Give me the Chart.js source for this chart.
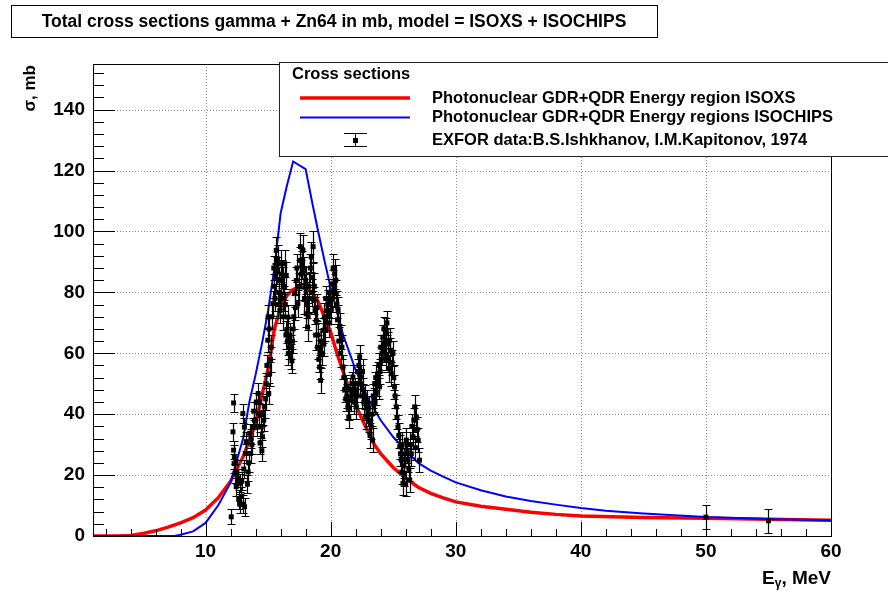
<!DOCTYPE html>
<html>
<head>
<meta charset="utf-8">
<script src="https://cdn.jsdelivr.net/npm/chart.js@4.4.1/dist/chart.umd.min.js"></script>
<style>
  html, body { margin: 0; padding: 0; background: #fff; }
  #wrap { width: 888px; height: 591px; }
</style>
</head>
<body>
<div id="wrap"><canvas id="xsChart" width="888" height="591"></canvas></div>
<script>
// model curve ISOXS (E in MeV, sigma in mb)
var isoxsE = [1, 2, 3, 4, 5, 6, 7, 8, 9, 10, 11, 12, 13, 14, 15, 15.5, 16, 16.5, 17, 17.5, 18, 18.5, 19, 19.5, 20, 20.5, 21, 21.5, 22, 22.5, 23, 23.5, 24, 25, 26, 27, 28, 29, 30, 32, 34, 36, 38, 40, 45, 50, 55, 60];
var isoxsS = [0, 0, 0, 0.2, 0.8, 1.7, 2.9, 4.3, 6.0, 8.5, 12.5, 18, 26, 37, 55, 68, 75, 79, 81, 81.5, 81.5, 80, 77, 72, 67, 60, 54, 48, 43, 38.5, 34, 30, 27, 22.5, 19, 16, 14, 12.5, 11.2, 9.8, 8.8, 7.8, 7.1, 6.6, 6.1, 5.8, 5.5, 5.2];

// model curve ISOCHIPS
var isochipsE = [1, 7.5, 8, 9, 10, 11, 12, 13, 13.5, 14, 14.5, 15, 15.5, 16, 16.5, 17, 18, 18.5, 19, 19.5, 20, 21, 22, 23, 24, 25, 26, 27, 28, 29, 30, 32, 34, 36, 38, 40, 42, 45, 50, 55, 60];
var isochipsS = [0, 0, 0.4, 1.5, 4.3, 10, 17.5, 32, 44, 53, 63, 74, 88, 106, 115, 123, 120.5, 110, 100, 90.5, 81.5, 66, 54.5, 45, 38, 32.5, 28, 24, 21.5, 19.5, 17.6, 15, 13, 11.5, 10.3, 9.2, 8.3, 7.4, 6.2, 5.6, 5.1];

// EXFOR data: energy, cross section, error
var exforE = [12.05, 12.19, 12.24, 12.24, 12.28, 12.35, 12.45, 12.6, 12.72, 12.72, 12.85, 12.98, 13.05, 13.1, 13.12, 13.2, 13.35, 13.45, 13.52, 13.6, 13.7, 13.78, 13.9, 14.05, 14.2, 14.25, 14.35, 14.45, 14.55, 14.65, 14.72, 14.85, 14.98, 15.0, 15.05, 15.12, 15.25, 15.38, 15.5, 15.65, 15.7, 15.85, 15.95, 16.05, 16.15, 16.25, 16.32, 16.45, 16.5, 16.58, 16.7, 16.85, 16.9, 17.0, 17.12, 17.25, 17.38, 17.52, 17.65, 17.78, 17.85, 17.95, 18.05, 18.15, 18.3, 18.45, 18.55, 18.65, 18.75, 18.85, 18.95, 19.05, 19.12, 19.2, 19.3, 19.38, 19.5, 19.65, 19.78, 19.9, 20.05, 20.15, 20.32, 20.45, 20.6, 20.72, 20.85, 20.98, 21.12, 21.25, 21.38, 21.45, 21.6, 21.78, 21.9, 22.05, 22.2, 22.32, 22.45, 22.6, 22.72, 22.85, 22.98, 23.1, 23.25, 23.35, 23.45, 23.52, 23.65, 23.78, 23.9, 24.05, 24.18, 24.3, 24.45, 24.55, 24.72, 24.85, 24.98, 25.1, 25.25, 25.38, 25.52, 25.65, 25.78, 25.9, 26.05, 26.18, 26.32, 26.45, 26.58, 26.72, 26.85, 27.0, 27.1,
  12.3, 12.5, 12.65, 12.9, 13.0, 13.25, 13.4, 13.65, 13.85, 14.1, 14.3, 14.5, 14.6, 14.8, 14.9,
  15.08, 15.2, 15.3, 15.45, 15.55, 15.6, 15.75, 15.8, 15.9, 16.0, 16.1, 16.2, 16.28, 16.38, 16.42, 16.55, 16.62, 16.75, 16.8, 16.95,
  17.05, 17.18, 17.3, 17.45, 17.58, 17.7, 17.9, 18.0, 18.1, 18.2, 18.25, 18.38, 18.5, 18.6, 18.7, 18.8, 18.9, 19.0, 19.15, 19.25,
  19.45, 19.55, 19.6, 19.7, 19.85, 19.95, 20.1, 20.2, 20.25, 20.4, 20.5, 20.55, 20.65, 20.8, 20.9,
  21.05, 21.2, 21.3, 21.5, 21.55, 21.7, 21.85, 21.95, 22.1, 22.15, 22.25, 22.38, 22.5, 22.55, 22.65, 22.8, 22.9, 23.05, 23.15, 23.3, 23.4, 23.55, 23.6, 23.7, 23.85, 23.95,
  24.0, 24.1, 24.25, 24.35, 24.4, 24.5, 24.6, 24.65, 24.78, 24.9, 25.05, 25.15, 25.3,
  25.45, 25.58, 25.7, 25.72, 25.85, 25.95, 26.0, 26.1, 26.25, 26.38, 26.5, 26.65, 26.78, 26.92,
  50, 55];
var exforS = [6.3, 34.2, 43.7, 28.2, 23.8, 20.5, 16.2, 19, 10.7, 17.3, 13, 40.2, 22, 35.8, 9.6, 27.1, 17, 24, 33.7, 27.1, 30, 35.8, 38, 44, 46.8, 40.2, 30.5, 35.8, 32.6, 38, 42.4, 50, 64.3, 71.9, 46.8, 53.3, 62, 76.3, 82, 93.8, 87.2, 80, 74, 89.4, 83.9, 78, 89.4, 85.5, 67.5, 71.9, 62, 62, 57.5, 68, 79.6, 83.9, 76.3, 90.5, 86, 93.8, 87.2, 81.7, 73, 68.6, 78, 91.6, 85, 77.4, 74, 70.8, 62, 58, 55.5, 51.1, 60, 67.5, 71.9, 74, 76.3, 70, 74.1, 82.8, 86.1, 79.6, 74, 68.6, 65.3, 55.5, 47.9, 49, 42.4, 39.1, 45, 52.2, 46.8, 42.4, 50, 58.8, 52.2, 48, 45.7, 42, 40.2, 38, 35.8, 31.5, 44.6, 50, 47, 53.3, 49, 58, 65.3, 61, 67.5, 57.7, 64.3, 53.3, 59.9, 49, 42.4, 35.8, 29.3, 24.9, 17.3, 20.5, 31.5, 24.9, 18.4, 27, 32.6, 42.4, 39.1, 31.5, 24.9,
  26, 21, 12, 18, 10.5, 31, 21, 32, 41, 36, 44, 28, 40, 45, 56,
  68, 58, 72, 88, 78, 85, 91, 76, 84, 79, 86, 72, 82, 76, 66, 64, 60, 66, 59, 64,
  72, 75, 88, 82, 95, 89, 78, 84, 76, 72, 82, 88, 80, 95, 82, 66, 75, 66, 60, 64,
  63, 68, 78, 72, 80, 76, 78, 88, 80, 84, 76, 71, 64, 60, 62,
  52, 45, 46, 42, 48, 50, 44, 48, 46, 54, 56, 50, 46, 54, 44, 39, 44, 42, 33, 40, 46, 44, 52, 50, 56, 54,
  62, 60, 68, 64, 59, 70, 63, 55, 61, 57, 52, 46, 39,
  33, 27, 21, 30, 23, 27, 17, 28, 22, 30, 36, 38, 29, 35,
  6.2, 5.0];
var exforErr = [2.5, 3, 3, 3, 3, 3, 3, 3, 3, 3, 3, 3, 3, 3, 3, 3, 3, 3, 3, 3, 3, 3, 3, 3, 3.5, 3.5, 3.5, 3.5, 3.5, 3.5, 3.5, 3.5, 4, 4, 3.5, 4, 4, 4, 4, 4.5, 4.5, 4.5, 4, 4.5, 4.5, 4, 4.5, 4.5, 4, 4, 4, 4, 4, 4, 4.5, 4.5, 4.5, 4.5, 4.5, 5, 4.5, 4.5, 4.5, 4.5, 4.5, 5, 4.5, 4.5, 4.5, 4.5, 4, 4, 4, 4, 4, 4, 4.5, 4.5, 4.5, 4.5, 4.5, 4.5, 5, 4.5, 4.5, 4.5, 4, 4, 4, 4, 4, 3.5, 4, 4, 4, 4, 4, 4, 4, 4, 4, 4, 4, 4, 4, 4, 4, 4, 4, 4, 4, 4, 4, 4, 4, 4, 4, 4, 4, 4, 4, 4, 4, 4, 4, 4, 4, 4, 4, 4, 4, 4, 4, 4, 4, 4, 4,
  3, 3, 3, 3, 3, 3, 3, 3, 3, 3.5, 3.5, 3.5, 3.5, 3.5, 4,
  4, 4, 4, 4.5, 4.5, 4.5, 4.5, 4.5, 4.5, 4.5, 4.5, 4, 4.5, 4.5, 4, 4, 4, 4, 4, 4,
  4.5, 4.5, 4.5, 4.5, 5, 4.5, 4.5, 4.5, 4.5, 4.5, 4.5, 5, 4.5, 5, 4.5, 4, 4.5, 4, 4, 4,
  4, 4.5, 4.5, 4.5, 4.5, 4.5, 4.5, 5, 4.5, 5, 4.5, 4.5, 4, 4, 4,
  4, 4, 4, 4, 4, 4, 4, 4, 4, 4, 4, 4, 4, 4, 4, 4, 4, 4, 4, 4, 4, 4, 4, 4, 4, 4,
  4, 4, 4.5, 4, 4, 4.5, 4, 4, 4, 4, 4, 4, 4,
  4, 4, 4, 4, 4, 4, 4, 4, 4, 4, 4, 4, 4, 4,
  1.5, 1];

var xMajor = [10, 20, 30, 40, 50, 60];
var yMajor = [0, 20, 40, 60, 80, 100, 120, 140];

var titleText = 'Total cross sections gamma + Zn64 in mb, model = ISOXS + ISOCHIPS';
var legendHeader = 'Cross sections';

function pts(xs, ys) {
  var out = [];
  for (var i in xs) out.push({ x: xs[i], y: ys[i] });
  return out;
}

var FONT = '"Liberation Sans", Arial, Helvetica, sans-serif';

// ROOT-like frame: dotted grid, tick marks, error bars, title and legend boxes
var rootLook = {
  id: 'rootLook',
  beforeDatasetsDraw: function(chart) {
    var ctx = chart.ctx, a = chart.chartArea, x = chart.scales.x, y = chart.scales.y;
    ctx.save();
    ctx.strokeStyle = '#8a8a8a';
    ctx.lineWidth = 1;
    ctx.setLineDash([1, 2]);
    xMajor.forEach(function(v) {
      if (v >= 60) return;
      var px = Math.round(x.getPixelForValue(v)) + 0.5;
      ctx.beginPath(); ctx.moveTo(px, a.top); ctx.lineTo(px, a.bottom); ctx.stroke();
    });
    yMajor.forEach(function(v) {
      if (v <= 0) return;
      var py = Math.round(y.getPixelForValue(v)) + 0.5;
      ctx.beginPath(); ctx.moveTo(a.left, py); ctx.lineTo(a.right, py); ctx.stroke();
    });
    ctx.restore();
  },
  afterDatasetsDraw: function(chart) {
    var ctx = chart.ctx, a = chart.chartArea, x = chart.scales.x, y = chart.scales.y;
    ctx.save();
    // error bars
    ctx.strokeStyle = '#000';
    ctx.lineWidth = 1.2;
    for (var i = 0; i < exforE.length; i++) {
      var px = Math.round(x.getPixelForValue(exforE[i])) + 0.5;
      var p1 = Math.round(y.getPixelForValue(exforS[i] - exforErr[i])) + 0.5;
      var p2 = Math.round(y.getPixelForValue(exforS[i] + exforErr[i])) + 0.5;
      ctx.beginPath();
      ctx.moveTo(px, p1); ctx.lineTo(px, p2);
      ctx.moveTo(px - 4, p1); ctx.lineTo(px + 4, p1);
      ctx.moveTo(px - 4, p2); ctx.lineTo(px + 4, p2);
      ctx.stroke();
    }
    // frame
    ctx.lineWidth = 1;
    ctx.strokeStyle = '#000';
    ctx.strokeRect(Math.round(a.left) + 0.5, Math.round(a.top) + 0.5,
      Math.round(a.right - a.left), Math.round(a.bottom - a.top));
    // y ticks (every 4 mb, major every 20)
    ctx.beginPath();
    for (var v = 0; v <= 152; v += 4) {
      var py = Math.round(y.getPixelForValue(v)) + 0.5;
      var len = (v % 20 === 0) ? 22 : 11;
      ctx.moveTo(a.left, py); ctx.lineTo(a.left + len, py);
    }
    // x ticks (every 2 MeV, major every 10)
    for (var e = 2; e < 60; e += 2) {
      var qx = Math.round(x.getPixelForValue(e)) + 0.5;
      var l2 = (e % 10 === 0) ? 14 : 7;
      ctx.moveTo(qx, a.bottom); ctx.lineTo(qx, a.bottom - l2);
    }
    ctx.stroke();
    ctx.restore();
  },
  afterDraw: function(chart) {
    var ctx = chart.ctx, a = chart.chartArea;
    var ds = chart.data.datasets;
    ctx.save();
    // title box
    ctx.fillStyle = '#fff';
    ctx.fillRect(11, 5, 647, 33);
    ctx.strokeStyle = '#000';
    ctx.lineWidth = 1;
    ctx.strokeRect(11.5, 5.5, 646, 32);
    ctx.fillStyle = '#000';
    ctx.font = 'bold 17.5px ' + FONT;
    ctx.textAlign = 'center';
    ctx.textBaseline = 'middle';
    ctx.fillText(titleText, 334, 22);

    // legend box
    ctx.fillStyle = '#fff';
    ctx.fillRect(279, 62, 620, 95);
    ctx.strokeStyle = '#222';
    ctx.strokeRect(279.5, 62.5, 620, 94);
    ctx.fillStyle = '#000';
    ctx.textAlign = 'left';
    ctx.font = 'bold 16.5px ' + FONT;
    ctx.fillText(legendHeader, 292, 74);
    // red line
    ctx.strokeStyle = ds[0].borderColor; ctx.lineWidth = ds[0].borderWidth;
    ctx.beginPath(); ctx.moveTo(300, 98); ctx.lineTo(410, 98); ctx.stroke();
    ctx.fillText(ds[0].label, 432, 98);
    // blue line
    ctx.strokeStyle = ds[1].borderColor; ctx.lineWidth = ds[1].borderWidth;
    ctx.beginPath(); ctx.moveTo(300, 117.5); ctx.lineTo(410, 117.5); ctx.stroke();
    ctx.fillText(ds[1].label, 432, 117);
    // error bar symbol
    ctx.strokeStyle = '#000'; ctx.lineWidth = 1;
    ctx.beginPath();
    ctx.moveTo(355.5, 133); ctx.lineTo(355.5, 147);
    ctx.moveTo(344, 133.5); ctx.lineTo(367, 133.5);
    ctx.moveTo(344, 146.5); ctx.lineTo(367, 146.5);
    ctx.stroke();
    ctx.fillRect(353, 138, 5, 5);
    ctx.fillText(ds[2].label, 432, 140);

    // axis titles
    ctx.font = 'bold 17px ' + FONT;
    ctx.save();
    ctx.translate(30, 65);
    ctx.rotate(-Math.PI / 2);
    ctx.textAlign = 'right';
    ctx.textBaseline = 'middle';
    ctx.fillText('\u03c3, mb', 0, 0);
    ctx.restore();

    ctx.textAlign = 'left';
    ctx.textBaseline = 'alphabetic';
    var tail = ', MeV';
    ctx.font = 'bold 19px ' + FONT;
    var wE = ctx.measureText('E').width, wT = ctx.measureText(tail).width;
    ctx.font = 'bold 12px ' + FONT;
    var wG = ctx.measureText('\u03b3').width;
    var x0 = a.right - wE - wG - wT, base = 584;
    ctx.font = 'bold 19px ' + FONT;
    ctx.fillText('E', x0, base);
    ctx.font = 'bold 12px ' + FONT;
    ctx.fillText('\u03b3', x0 + wE, base + 3);
    ctx.font = 'bold 19px ' + FONT;
    ctx.fillText(tail, x0 + wE + wG, base);
    ctx.restore();
  }
};

var ctx = document.getElementById('xsChart');
var xsChart = new Chart(ctx, {
  type: 'scatter',
  data: {
    datasets: [{
      label: 'Photonuclear GDR+QDR Energy region ISOXS',
      data: pts(isoxsE, isoxsS),
      showLine: true,
      borderColor: '#ff0000',
      borderWidth: 3.5,
      pointRadius: 0,
      tension: 0,
      order: 2
    }, {
      label: 'Photonuclear GDR+QDR Energy regions ISOCHIPS',
      data: pts(isochipsE, isochipsS),
      showLine: true,
      borderColor: '#0000ff',
      borderWidth: 2,
      pointRadius: 0,
      tension: 0,
      order: 1
    }, {
      label: 'EXFOR data:B.S.Ishkhanov, I.M.Kapitonov, 1974',
      data: pts(exforE, exforS),
      showLine: false,
      pointStyle: 'rect',
      pointRadius: 3.5,
      pointBorderWidth: 0,
      backgroundColor: '#000',
      borderColor: '#000',
      order: 0
    }]
  },
  options: {
    responsive: false,
    animation: false,
    devicePixelRatio: 1,
    layout: { padding: { top: 64, right: 57, left: 0, bottom: 0 } },
    plugins: {
      legend: { display: false },
      title: { display: false },
      tooltip: { enabled: false }
    },
    scales: {
      x: {
        type: 'linear',
        min: 1,
        max: 60,
        afterBuildTicks: function(scale) {
          scale.ticks = xMajor.map(function(v) { return { value: v }; });
        },
        afterFit: function(scale) { scale.height = 55; },
        grid: { display: false, drawTicks: false },
        border: { display: false },
        ticks: {
          color: '#000',
          padding: 4,
          maxRotation: 0,
          autoSkip: false,
          font: { family: FONT, size: 19, weight: 'bold' }
        }
      },
      y: {
        type: 'linear',
        min: 0,
        max: 155,
        afterBuildTicks: function(scale) {
          scale.ticks = yMajor.map(function(v) { return { value: v }; });
        },
        afterFit: function(scale) { scale.width = 93; },
        grid: { display: false, drawTicks: false },
        border: { display: false },
        ticks: {
          color: '#000',
          padding: 8,
          autoSkip: false,
          font: { family: FONT, size: 19, weight: 'bold' }
        }
      }
    }
  },
  plugins: [rootLook]
});
</script>
</body>
</html>
